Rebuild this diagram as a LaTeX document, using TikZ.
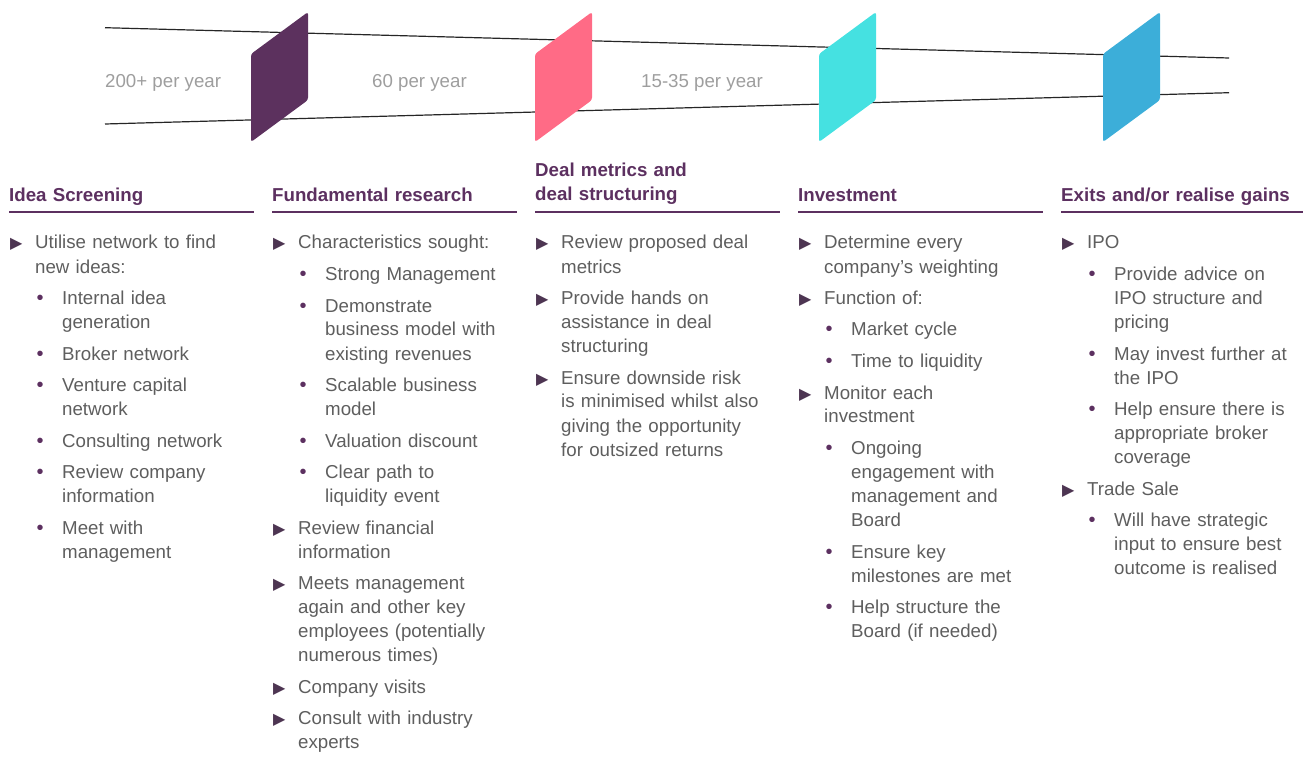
\documentclass[tikz,border=0pt]{standalone}
\usepackage{fontspec}
\setmainfont{Liberation Sans}
\newfontfamily\symfont{DejaVu Sans}
\setlength{\parskip}{0pt}
\definecolor{headpurple}{HTML}{5C3060}
\definecolor{tricol}{HTML}{4D3552}
\definecolor{bodygray}{HTML}{5E5E5E}
\definecolor{lightgray}{HTML}{9E9E9E}
\definecolor{gatepurple}{HTML}{5C315E}
\definecolor{gatepink}{HTML}{FF6B86}
\definecolor{gatecyan}{HTML}{45E1E1}
\definecolor{gateblue}{HTML}{3CAED9}
\newcommand{\tribullet}{{\symfont\fontsize{16}{16}\selectfont\color{tricol}▶}}
\newcommand{\dotbullet}{{\fontsize{20}{20}\selectfont\color{headpurple}•}}
\newenvironment{lvone}{\begin{list}{\tribullet}{%
  \setlength\leftmargin{26pt}\setlength\labelwidth{26pt}\setlength\labelsep{0pt}%
  \setlength\itemsep{7.5pt}\setlength\parsep{0pt}\setlength\topsep{0pt}%
  \setlength\partopsep{0pt}\setlength\itemindent{0pt}\setlength\listparindent{0pt}%
  \renewcommand\makelabel[1]{\hspace{1pt}##1\hfil}}}{\end{list}}
\newenvironment{lvtwo}{\begin{list}{\dotbullet}{%
  \setlength\leftmargin{27pt}\setlength\labelwidth{27pt}\setlength\labelsep{0pt}%
  \setlength\itemsep{7.5pt}\setlength\parsep{0pt}\setlength\topsep{7.5pt}%
  \setlength\partopsep{0pt}\setlength\itemindent{0pt}\setlength\listparindent{0pt}%
  \renewcommand\makelabel[1]{\hspace{1.5pt}##1\hfil}}}{\end{list}}
\tikzset{
  gate/.style={rounded corners=2.5pt},
  funnel/.style={draw=black!85, line width=1.2pt},
  ratelabel/.style={anchor=base west, inner sep=0pt, text=lightgray, font=\fontsize{18.7}{24}\selectfont},
  heading/.style={anchor=base west, inner sep=0pt, text=headpurple, text width=250pt, align=left, font=\fontsize{18.7}{24}\selectfont\bfseries},
  uline/.style={draw=headpurple, line width=1.2pt},
  body/.style={anchor=base west, inner sep=0pt, text=bodygray, text width=250pt, align=left, font=\fontsize{18.7}{24}\selectfont}
}
\begin{document}
\begin{tikzpicture}[x=1pt,y=-1pt]
\useasboundingbox (0,0) rectangle (1303,762);
% funnel lines
\draw[funnel] (105,27.7) -- (1229,58);
\draw[funnel] (105,124) -- (1229,92.7);
% gates
\foreach \gx/\gc in {251/gatepurple,535/gatepink,819/gatecyan,1103/gateblue}{
  \fill[gate,\gc] (\gx,54) -- (\gx+57,12) -- (\gx+57,100) -- (\gx,142) -- cycle;
}
% rates
\node[ratelabel] (r1) at (105,88) {200+ per year};
\node[ratelabel] (r2) at (372,88) {60 per year};
\node[ratelabel] (r3) at (641,88) {15-35 per year};
% headings
\node[heading] (h1) at (9,201) {Idea Screening};
\node[heading] (h2) at (272,201) {Fundamental research};
\node[heading] (h3) at (535,177) {Deal metrics and\newline deal structuring};
\node[heading] (h4) at (798,201) {Investment};
\node[heading] (h5) at (1061,201) {Exits and/or realise gains};
\draw[uline] (9,212) -- (254,212);
\draw[uline] (272,212) -- (517,212);
\draw[uline] (535,212) -- (780,212);
\draw[uline] (798,212) -- (1043,212);
\draw[uline] (1061,212) -- (1303,212);
% bodies
\node[body] (b1) at (9,225) {%
\begin{lvone}
\item Utilise network to find\newline new ideas:
\begin{lvtwo}
\item Internal idea\newline generation
\item Broker network
\item Venture capital\newline network
\item Consulting network
\item Review company\newline information
\item Meet with\newline management
\end{lvtwo}
\end{lvone}};
\node[body] (b2) at (272,225) {%
\begin{lvone}
\item Characteristics sought:
\begin{lvtwo}
\item Strong Management
\item Demonstrate\newline business model with\newline existing revenues
\item Scalable business\newline model
\item Valuation discount
\item Clear path to\newline liquidity event
\end{lvtwo}
\item Review financial\newline information
\item Meets management\newline again and other key\newline employees (potentially\newline numerous times)
\item Company visits
\item Consult with industry\newline experts
\end{lvone}};
\node[body] (b3) at (535,225) {%
\begin{lvone}
\item Review proposed deal\newline metrics
\item Provide hands on\newline assistance in deal\newline structuring
\item Ensure downside risk\newline is minimised whilst also\newline giving the opportunity\newline for outsized returns
\end{lvone}};
\node[body] (b4) at (798,225) {%
\begin{lvone}
\item Determine every\newline company’s weighting
\item Function of:
\begin{lvtwo}
\item Market cycle
\item Time to liquidity
\end{lvtwo}
\item Monitor each\newline investment
\begin{lvtwo}
\item Ongoing\newline engagement with\newline management and\newline Board
\item Ensure key\newline milestones are met
\item Help structure the\newline Board (if needed)
\end{lvtwo}
\end{lvone}};
\node[body] (b5) at (1061,225) {%
\begin{lvone}
\item IPO
\begin{lvtwo}
\item Provide advice on\newline IPO structure and\newline pricing
\item May invest further at\newline the IPO
\item Help ensure there is\newline appropriate broker\newline coverage
\end{lvtwo}
\item Trade Sale
\begin{lvtwo}
\item Will have strategic\newline input to ensure best\newline outcome is realised
\end{lvtwo}
\end{lvone}};
\end{tikzpicture}
\end{document}
